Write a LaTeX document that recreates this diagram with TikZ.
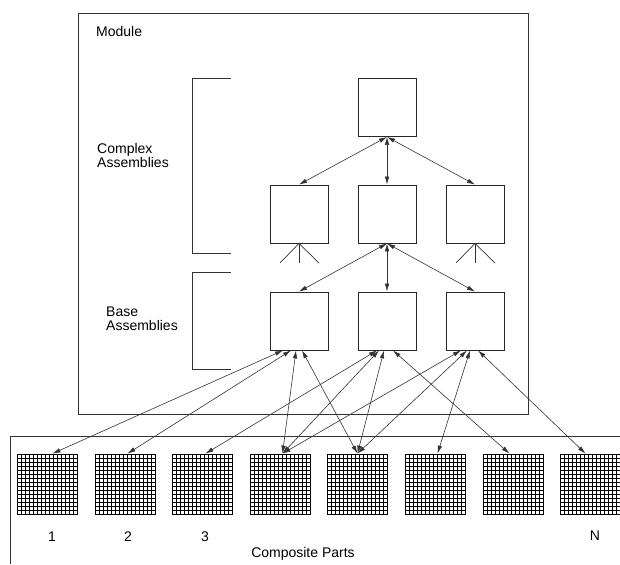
\documentclass[tikz,border=0pt]{standalone}
\usepackage{fontspec}
\setmainfont{Liberation Sans}
\usetikzlibrary{arrows.meta,calc}

\begin{document}
\begin{tikzpicture}[x=1pt,y=-1pt,
  font=\fontsize{14}{14}\selectfont,
  thinline/.style={draw=black!80, line width=0.7pt},
  asm/.style={draw=black!85, line width=0.8pt, fill=white,
    minimum width=58pt, minimum height=58pt, inner sep=0pt},
  link/.style={draw=black!80, line width=0.6pt,
    {Latex[length=8pt,width=4.5pt]}-{Latex[length=8pt,width=4.5pt]}},
  part/.style={draw=black, line width=1.8pt, fill=white,
    minimum width=60pt, minimum height=60pt, inner sep=0pt,
    path picture={
      \foreach \k in {1,...,14}{
        \draw[black, line width=1.8pt]
          ([xshift=\k*4pt]path picture bounding box.south west) --
          ([xshift=\k*4pt]path picture bounding box.north west);
        \draw[black, line width=1.8pt]
          ([yshift=\k*4pt]path picture bounding box.south west) --
          ([yshift=\k*4pt]path picture bounding box.south east);
      }
    }},
  lbl/.style={inner sep=0pt}
]
\useasboundingbox (0,0) rectangle (620,564);

% module frame and the composite parts area
\draw[thinline] (78,13) rectangle (528,414);
\draw[thinline] (10,564) -- (10,436) -- (620,436);
\node[lbl, anchor=base west] (module) at (96,37) {Module};

% brackets grouping the assembly levels
\draw[thinline] (231,78) -- (192,78) -- (192,253) -- (231,253);
\draw[thinline] (231,272) -- (192,272) -- (192,369) -- (231,369);
\node[lbl, anchor=north west, align=left] (cxlbl) at (97,143) {Complex\\Assemblies};
\node[lbl, anchor=north west, align=left] (baselbl) at (106,307) {Base\\Assemblies};

% assembly hierarchy
\node[asm] (top) at (387,107.5) {};
\node[asm] (cl) at (299,214) {};
\node[asm] (cm) at (387,214) {};
\node[asm] (cr) at (475,214) {};
\node[asm] (bl) at (299,321) {};
\node[asm] (bm) at (387,321) {};
\node[asm] (br) at (475,321) {};

\draw[link] (top.south) -- (cl.north);
\draw[link] (top.south) -- (cm.north);
\draw[link] (top.south) -- (cr.north);
\draw[link] (cm.south) -- (bl.north);
\draw[link] (cm.south) -- (bm.north);
\draw[link] (cm.south) -- (br.north);

% fan-out below the outer complex assemblies
\coordinate (cla) at (280,263);
\coordinate (clb) at (299,263);
\coordinate (clc) at (319,263);
\coordinate (cra) at (456,263);
\coordinate (crb) at (475,263);
\coordinate (crc) at (495,263);
\draw[thinline] (cl.south) -- (cla);
\draw[thinline] (cl.south) -- (clb);
\draw[thinline] (cl.south) -- (clc);
\draw[thinline] (cr.south) -- (cra);
\draw[thinline] (cr.south) -- (crb);
\draw[thinline] (cr.south) -- (crc);

% composite parts (centres on half units so the mesh sits on whole pixels)
\foreach \i/\x in {1/47.5,2/125.5,3/202.5,4/280.5,5/357.5,6/435.5,7/513.5,8/590.5}
  \node[part] (p\i) at (\x,484.5) {};

\node[lbl] (n1) at (52,537) {1};
\node[lbl] (n2) at (128,537) {2};
\node[lbl] (n3) at (205,537) {3};
\node[lbl] (nN) at (595,536) {N};
\node[lbl] (cplbl) at (303,554) {Composite Parts};

% base assemblies to composite parts
\draw[link] ([xshift=-16pt]bl.south) -- ([xshift=5pt]p1.north);
\draw[link] ([xshift=-8pt]bl.south) -- ([xshift=2pt]p2.north);
\draw[link] ([xshift=-3pt]bl.south) -- ([xshift=2pt]p4.north);
\draw[link] ([xshift=3pt]bl.south) -- ([xshift=0pt]p5.north);

\draw[link] ([xshift=-10pt]bm.south) -- ([xshift=3pt]p3.north);
\draw[link] ([xshift=-8pt]bm.south) -- ([xshift=2pt]p4.north);
\draw[link] ([xshift=-3pt]bm.south) -- ([xshift=0pt]p5.north);
\draw[link] ([xshift=6pt]bm.south) -- ([xshift=-4pt]p7.north);

\draw[link] ([xshift=-14pt]br.south) -- ([xshift=2pt]p4.north);
\draw[link] ([xshift=-8pt]br.south) -- ([xshift=0pt]p5.north);
\draw[link] ([xshift=-5pt]br.south) -- ([xshift=2pt]p6.north);
\draw[link] ([xshift=3pt]br.south) -- ([xshift=-5pt]p8.north);
\end{tikzpicture}
\end{document}
